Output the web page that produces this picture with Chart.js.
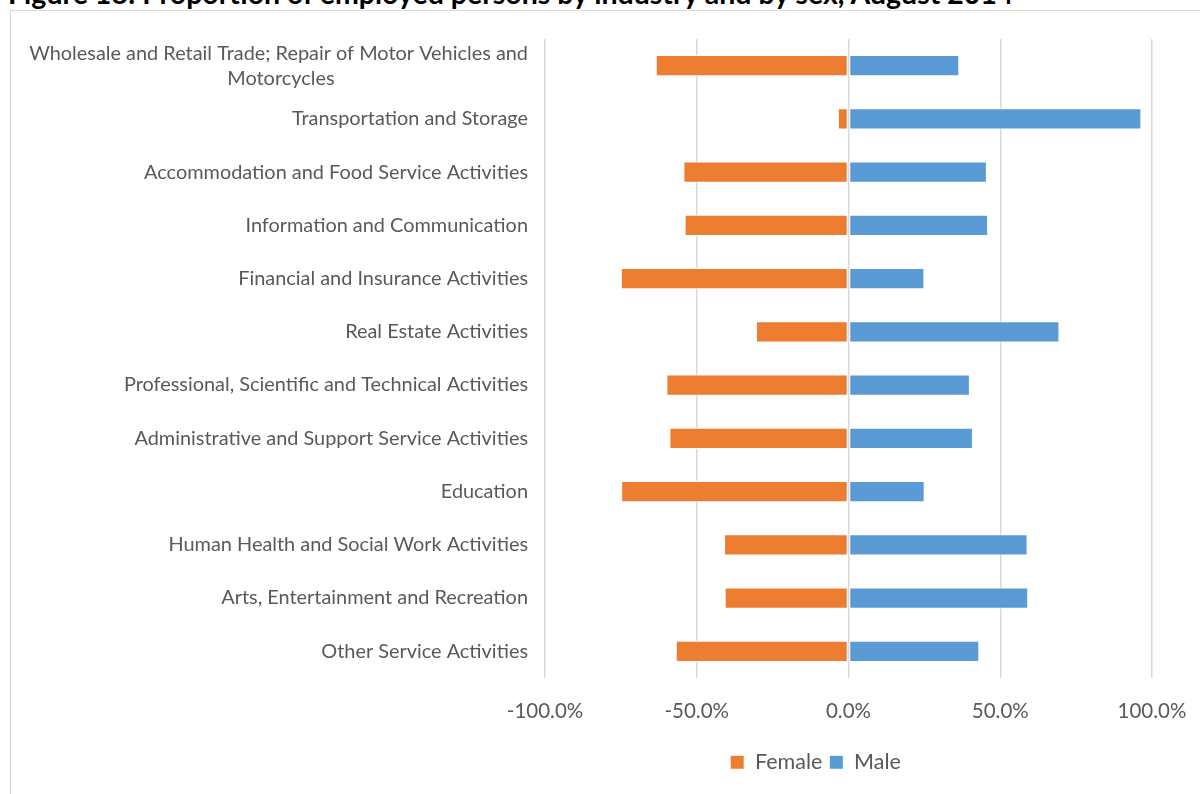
<!DOCTYPE html>
<html>
<head>
<meta charset="utf-8">
<script src="https://cdn.jsdelivr.net/npm/chart.js@4.4.1/dist/chart.umd.min.js"></script>
<style>
  html, body { margin: 0; padding: 0; background: #fff; overflow: hidden; }
  #title {
    position: absolute; left: 8px; top: -21px;
    font: bold 28.5px Lato, sans-serif; color: #000; white-space: nowrap; line-height: 28.5px;
  }
  #frame {
    position: absolute; left: 10px; top: 10px; width: 1300px; height: 900px;
    border: 1px solid #d9d9d9;
  }
  #wrap { position: absolute; left: 0; top: 0; width: 1200px; height: 794px; }
</style>
</head>
<body>
<div id="title">Figure 18: Proportion of employed persons by industry and by sex, August 2014</div>
<div id="frame"></div>
<div id="wrap"><canvas id="sexChart"></canvas></div>
<script>
// industries, top to bottom
const industries = [
    'Wholesale and Retail Trade; Repair of Motor Vehicles and Motorcycles',
    'Transportation and Storage',
    'Accommodation and Food Service Activities',
    'Information and Communication',
    'Financial and Insurance Activities',
    'Real Estate Activities',
    'Professional, Scientific and Technical Activities',
    'Administrative and Support Service Activities',
    'Education',
    'Human Health and Social Work Activities',
    'Arts, Entertainment and Recreation',
    'Other Service Activities'
];
// share of employed persons (%) - female drawn to the left
const femaleShare = [63.5, 3.5, 54.4, 54.0, 75.0, 30.5, 60.0, 59.0, 74.9, 41.0, 40.8, 56.9];
const maleShare = [36.5, 96.5, 45.6, 46.0, 25.0, 69.5, 40.0, 41.0, 25.1, 59.0, 59.2, 43.1];
const axisTicks = [-100, -50, 0, 50, 100];

const labelFont = { family: 'Lato', size: 19.9, lineHeight: 1.26 };
const textGrey = '#595959';

// Excel wraps the long label and centres the second line; pad it with spaces
function wrapLabel(text) {
    if (text.length < 60) return text;
    const cut = text.lastIndexOf(' ', 57);
    const first = text.slice(0, cut);
    const second = text.slice(cut + 1);
    const ctx = document.createElement('canvas').getContext('2d');
    ctx.font = labelFont.size + 'px ' + labelFont.family;
    const gap = (ctx.measureText(first).width - ctx.measureText(second).width) / 2;
    const n = Math.round(gap / ctx.measureText(' ').width);
    return [first, second + ' '.repeat(n)];
}

// nudge the legend a little left of the plot centre, like the original
const legendShift = {
    id: 'legendShift',
    afterLayout(chart) {
        chart.legend.left -= 66;
    }
};

const ctx = document.getElementById('sexChart').getContext('2d');
const sexChart = new Chart(ctx, {
    type: 'bar',
    data: {
        labels: industries.map(wrapLabel),
        datasets: [{
            label: 'Female',
            data: femaleShare.map(v => -v),
            backgroundColor: '#ED7D31',
            borderColor: '#ffffff',
            borderWidth: 1,
            borderSkipped: false
        }, {
            label: 'Male',
            data: maleShare,
            backgroundColor: '#5B9BD5',
            borderColor: '#ffffff',
            borderWidth: 1,
            borderSkipped: false
        }]
    },
    options: {
        indexAxis: 'y',
        responsive: true,
        maintainAspectRatio: false,
        animation: false,
        layout: { padding: { top: 39, right: 48, bottom: 11, left: 0 } },
        datasets: { bar: { categoryPercentage: 0.4, barPercentage: 1 } },
        scales: {
            x: {
                stacked: true,
                min: -100,
                max: 100,
                afterBuildTicks: scale => { scale.ticks = axisTicks.map(v => ({ value: v })); },
                afterFit: scale => { scale.paddingLeft = 0; scale.paddingRight = 0; },
                ticks: {
                    padding: 21,
                    color: textGrey,
                    font: { family: 'Lato', size: 20.5 },
                    callback: v => v.toFixed(1) + '%'
                },
                grid: { color: '#d9d9d9', lineWidth: 1.5, drawTicks: false },
                border: { display: false }
            },
            y: {
                stacked: true,
                afterFit: scale => { scale.width = 545; },
                ticks: { padding: 17, autoSkip: false, color: textGrey, font: labelFont },
                grid: { display: false, drawTicks: false },
                border: { display: false }
            }
        },
        plugins: {
            legend: {
                position: 'bottom',
                fullSize: false,
                labels: {
                    boxWidth: 14,
                    boxHeight: 14,
                    padding: 7,
                    color: textGrey,
                    font: { family: 'Lato', size: 21.5 }
                }
            },
            tooltip: { enabled: false }
        }
    },
    plugins: [legendShift]
});
</script>
</body>
</html>
